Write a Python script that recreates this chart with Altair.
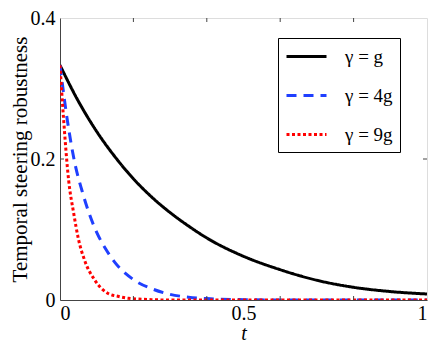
import altair as alt
import pandas as pd

# ---- data ----
labels = ["γ = g", "γ = 4g", "γ = 9g"]

t_g = [0, 0.05, 0.1, 0.15, 0.2, 0.25, 0.3, 0.35, 0.4, 0.5, 0.6, 0.7, 0.8, 0.9, 1.0]
v_g = [0.333, 0.282, 0.239, 0.203, 0.172, 0.146, 0.124, 0.105, 0.088, 0.062, 0.043, 0.028, 0.018, 0.012, 0.0085]

t_4g = [0, 0.02, 0.04, 0.06, 0.08, 0.1, 0.125, 0.15, 0.2, 0.25, 0.3, 0.35, 0.4, 0.5, 0.6, 0.7, 0.8, 0.9, 1.0]
v_4g = [0.333, 0.255, 0.195, 0.155, 0.122, 0.096, 0.072, 0.053, 0.029, 0.016, 0.008, 0.004, 0.002, 0.0005, 0, 0, 0, 0, 0]

t_9g = [0, 0.01, 0.0235, 0.037, 0.05, 0.068, 0.095, 0.131, 0.16, 0.186, 0.25, 0.3, 0.4, 0.5, 0.6, 0.7, 0.8, 0.9, 1.0]
v_9g = [0.333, 0.255, 0.170, 0.124, 0.087, 0.055, 0.028, 0.0093, 0.005, 0.0025, 0.0005, 0, 0, 0, 0, 0, 0, 0, 0]

x_ticks = [0.2, 0.4, 0.6, 0.8]
y_ticks = [0.2]
x_labels = [0, 0.5, 1]
y_labels = [0, 0.2, 0.4]

colors = ["#000000", "#1f3fff", "#ff0000"]
dashes = [[1, 0], [10, 7], [3, 2.5]]

rows = []
for name, ts, vs in zip(labels, [t_g, t_4g, t_9g], [v_g, v_4g, v_9g]):
    for t, v in zip(ts, vs):
        rows.append({"series": name, "t": t, "v": v, "ord": labels.index(name)})
df = pd.DataFrame(rows)

W, H = 367, 282
FONT = "Times New Roman, Liberation Serif, DejaVu Serif, serif"

xs = alt.Scale(domain=[0, 1], nice=False, zero=False)
ys = alt.Scale(domain=[0, 0.4], nice=False)

lines = alt.Chart(df).mark_line(strokeWidth=3, clip=True, interpolate="monotone").encode(
    x=alt.X("t:Q", scale=xs,
            axis=alt.Axis(values=x_labels, ticks=False, grid=False, labelFont=FONT, labelFontSize=20,
                          labelPadding=3, title="t", titleFont=FONT, titleFontSize=20,
                          titleFontStyle="italic", titleFontWeight="normal", titlePadding=0,
                          domainColor="#444", labelColor="black", titleColor="black",
                          labelExpr="datum.value == 0 ? '0' : (datum.value == 1 ? '1' : '0.5')")),
    y=alt.Y("v:Q", scale=ys,
            axis=alt.Axis(values=y_labels, ticks=False, grid=False, labelFont=FONT, labelFontSize=20,
                          labelPadding=5, title="Temporal steering robustness", titleFont=FONT,
                          titleFontSize=21, titleFontWeight="normal", titlePadding=0,
                          domainColor="#444", labelColor="black", titleColor="black",
                          labelExpr="datum.value == 0 ? '0' : format(datum.value, '.1f')")),
    color=alt.Color("series:N", scale=alt.Scale(domain=labels, range=colors),
                    legend=alt.Legend(title=None, orient="none", legendX=218, legendY=20,
                                      strokeColor="black", fillColor="white", padding=7,
                                      symbolType="M-1,0H3", symbolSize=400, symbolStrokeWidth=3,
                                      labelFont=FONT, labelFontSize=19, labelOffset=37,
                                      rowPadding=17, labelColor="black")),
    strokeDash=alt.StrokeDash("series:N", scale=alt.Scale(domain=labels, range=dashes), legend=None),
    order=alt.Order("ord:Q"),
)

bx = pd.DataFrame({"x": x_ticks})
by = pd.DataFrame({"y": y_ticks})
tick_b = alt.Chart(bx).mark_rule(color="#444", strokeWidth=1).encode(
    x=alt.X("x:Q", scale=xs), y=alt.value(H), y2=alt.value(H - 4))
tick_t = alt.Chart(bx).mark_rule(color="#444", strokeWidth=1).encode(
    x=alt.X("x:Q", scale=xs), y=alt.value(0), y2=alt.value(4))
tick_l = alt.Chart(by).mark_rule(color="#444", strokeWidth=1).encode(
    y=alt.Y("y:Q", scale=ys), x=alt.value(0), x2=alt.value(4))
tick_r = alt.Chart(by).mark_rule(color="#444", strokeWidth=1).encode(
    y=alt.Y("y:Q", scale=ys), x=alt.value(W), x2=alt.value(W - 4))

chart = alt.layer(lines, tick_b, tick_t, tick_l, tick_r).properties(
    width=W, height=H,
    autosize=alt.AutoSizeParams(type="none"),
    padding={"left": 52, "top": 10, "right": 2, "bottom": 43},
).configure_view(stroke="#444", strokeWidth=1).configure(background="white")

chart.save("out.html", embed_options={"renderer": "svg", "actions": False})
